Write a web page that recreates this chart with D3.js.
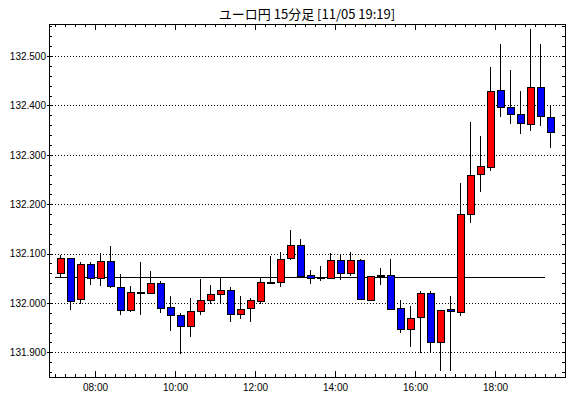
<!DOCTYPE html>
<html>
<head>
<meta charset="utf-8">
<script src="https://cdn.jsdelivr.net/npm/d3@7"></script>
<style>
  body { margin: 0; background: #fff; }
  text { font-family: "Liberation Sans", Arial, sans-serif; }
</style>
</head>
<body>
<svg id="chart" width="570" height="398"></svg>
<script>
const title = "ユーロ円 15分足 [11/05 19:19]";

const times = [
  "07:00","07:15","07:30","07:45","08:00","08:15","08:30","08:45",
  "09:00","09:15","09:30","09:45","10:00","10:15","10:30","10:45",
  "11:00","11:15","11:30","11:45","12:00","12:15","12:30","12:45",
  "13:00","13:15","13:30","13:45","14:00","14:15","14:30","14:45",
  "15:00","15:15","15:30","15:45","16:00","16:15","16:30","16:45",
  "17:00","17:15","17:30","17:45","18:00","18:15","18:30","18:45",
  "19:00","19:15"];

const opens = [
  132.061,132.092,132.008,132.078,132.049,132.084,132.033,131.986,132.023,132.020,
  132.041,131.992,131.976,131.953,131.984,132.006,132.018,132.027,131.978,131.988,
  132.005,132.043,132.043,132.090,132.117,132.056,132.052,132.050,132.086,132.059,
  132.086,132.006,132.054,132.057,131.989,131.947,131.971,132.020,131.920,131.988,
  131.983,132.181,132.260,132.276,132.431,132.396,132.382,132.364,132.438,132.376];
const highs = [
  132.097,132.092,132.083,132.082,132.101,132.116,132.058,132.035,132.082,132.065,
  132.044,132.015,131.980,132.010,132.048,132.037,132.050,132.033,132.015,132.010,
  132.052,132.095,132.104,132.148,132.129,132.066,132.074,132.101,132.097,132.103,
  132.088,132.055,132.070,132.088,132.006,131.994,132.025,132.025,131.985,132.015,
  132.242,132.366,132.338,132.478,132.524,132.472,132.429,132.555,132.524,132.399];
const lows = [
  132.050,131.986,131.997,132.037,132.034,132.030,131.976,131.981,131.976,132.018,
  131.980,131.944,131.897,131.932,131.976,131.997,131.997,131.961,131.967,131.961,
  131.997,132.041,132.033,132.086,132.054,132.038,132.044,132.048,132.046,132.054,
  132.006,132.003,132.037,131.987,131.940,131.910,131.898,131.898,131.862,131.862,
  131.973,132.161,132.225,132.268,132.377,132.362,132.343,132.349,132.358,132.313];
const closes = [
  132.092,132.005,132.078,132.049,132.084,132.033,131.986,132.023,132.022,132.041,
  131.991,131.976,131.953,131.984,132.006,132.018,132.027,131.978,131.988,132.005,
  132.043,132.042,132.090,132.117,132.054,132.049,132.049,132.086,132.059,132.086,
  132.006,132.055,132.057,131.989,131.947,131.969,132.020,131.920,131.985,131.984,
  132.181,132.260,132.277,132.429,132.396,132.382,132.364,132.438,132.379,132.345];

const baseLevel = 132.053;
const yTicks = [131.9, 132.0, 132.1, 132.2, 132.3, 132.4, 132.5];
const xTickLabels = ["08:00", "10:00", "12:00", "14:00", "16:00", "18:00"];

const parse = d3.timeParse("%H:%M");
const candles = times.map((t, i) => ({
  t: parse(t), o: opens[i], h: highs[i], l: lows[i], c: closes[i]
}));

const plotLeft = 49, plotRight = 565, plotTop = 24, plotBottom = 377;

const x = d3.scaleTime()
  .domain([parse("06:51"), parse("19:45")])
  .range([plotLeft, plotRight]);
const y = d3.scaleLinear()
  .domain([131.85, 132.565])
  .range([plotBottom, plotTop]);

const svg = d3.select("#chart").attr("shape-rendering", "crispEdges");

// title
svg.append("text")
  .attr("x", (plotLeft + plotRight) / 2)
  .attr("y", 19)
  .attr("text-anchor", "middle")
  .style("font-family", "'Noto Sans CJK JP', sans-serif")
  .style("font-size", "13px")
  .text(title);

// grid
svg.append("g").selectAll("line")
  .data(yTicks)
  .enter()
  .append("line")
  .attr("x1", plotLeft).attr("x2", plotRight)
  .attr("y1", d => Math.round(y(d)) + 0.5)
  .attr("y2", d => Math.round(y(d)) + 0.5)
  .attr("stroke", "#000")
  .attr("stroke-dasharray", "1,2");

// reference line
svg.append("line")
  .attr("x1", x(parse(times[0])))
  .attr("x2", x(parse(times[times.length - 1])))
  .attr("y1", Math.round(y(baseLevel)) + 0.5)
  .attr("y2", Math.round(y(baseLevel)) + 0.5)
  .attr("stroke", "#000")
  .attr("stroke-width", 1.5);

// axes
const minorY = d3.range(0, 36).map(i => 131.86 + i * 0.02);
const minorX = d3.timeMinute.every(15).range(parse("07:00"), parse("19:45"));
const majorX = xTickLabels.map(parse);

function noDomain(g) { g.select(".domain").remove(); }

svg.append("g")
  .attr("transform", `translate(${plotLeft},0)`)
  .call(d3.axisLeft(y).tickValues(minorY).tickFormat("").tickSizeInner(-3).tickSizeOuter(0))
  .call(noDomain);
svg.append("g")
  .attr("transform", `translate(${plotLeft},0)`)
  .call(d3.axisLeft(y).tickValues(yTicks).tickFormat(d3.format(".3f")).tickSizeInner(2).tickSizeOuter(0).tickPadding(1))
  .call(noDomain)
  .call(g => g.selectAll("text").style("font-size", "10px").style("font-family", "'Liberation Sans', Arial, sans-serif"));
svg.append("g")
  .attr("transform", `translate(${plotRight},0)`)
  .call(d3.axisRight(y).tickValues(minorY).tickFormat("").tickSizeInner(-3).tickSizeOuter(0))
  .call(noDomain);

svg.append("g")
  .attr("transform", `translate(0,${plotBottom})`)
  .call(d3.axisBottom(x).tickValues(minorX).tickFormat("").tickSizeInner(-3).tickSizeOuter(0))
  .call(noDomain);
svg.append("g")
  .attr("transform", `translate(0,${plotBottom})`)
  .call(d3.axisBottom(x).tickValues(majorX).tickFormat(d3.timeFormat("%H:%M")).tickSizeInner(-6).tickSizeOuter(0).tickPadding(7))
  .call(noDomain)
  .call(g => g.selectAll("text").style("font-size", "10px").style("font-family", "'Liberation Sans', Arial, sans-serif"));
svg.append("g")
  .attr("transform", `translate(0,${plotTop})`)
  .call(d3.axisTop(x).tickValues(minorX).tickFormat("").tickSizeInner(-3).tickSizeOuter(0))
  .call(noDomain);
svg.append("g")
  .attr("transform", `translate(0,${plotTop})`)
  .call(d3.axisTop(x).tickValues(majorX).tickFormat("").tickSizeInner(-6).tickSizeOuter(0))
  .call(noDomain);

// frame
svg.append("rect")
  .attr("x", plotLeft + 0.5).attr("y", plotTop + 0.5)
  .attr("width", plotRight - plotLeft).attr("height", plotBottom - plotTop)
  .attr("fill", "none")
  .attr("stroke", "#000");

// candles
const cx = d => Math.round(x(d.t)) + 5.5;

const g = svg.append("g");
g.selectAll("line")
  .data(candles)
  .enter()
  .append("line")
  .attr("x1", cx).attr("x2", cx)
  .attr("y1", d => y(d.h))
  .attr("y2", d => y(d.l))
  .attr("stroke", "#000");

g.selectAll("rect")
  .data(candles)
  .enter()
  .append("rect")
  .attr("x", d => cx(d) - 3.5)
  .attr("y", d => Math.round(y(Math.max(d.o, d.c))) + 0.5)
  .attr("width", 7)
  .attr("height", d => Math.max(1, Math.round(Math.abs(y(d.o) - y(d.c)))))
  .attr("fill", d => d.c >= d.o ? "#ff0000" : "#0000ff")
  .attr("stroke", "#000");
</script>
</body>
</html>
